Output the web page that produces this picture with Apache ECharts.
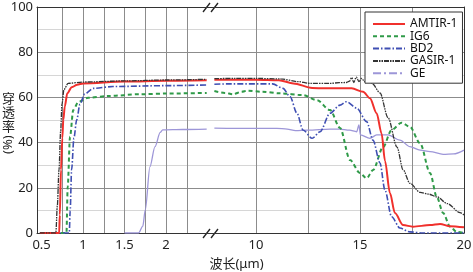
<!DOCTYPE html>
<html>
<head>
<meta charset="utf-8">
<script src="https://cdn.jsdelivr.net/npm/echarts@6/dist/echarts.min.js"></script>
<style>
  html, body { margin: 0; padding: 0; background: #fff; }
  #chart { width: 473px; height: 272px; }
</style>
</head>
<body>
<div id="chart"></div>
<script>
// wavelength (um), transmission (%)
const amtir = [
  [0.48, 0], [0.712, 0], [0.72, 8], [0.734, 28], [0.75, 42], [0.762, 50], [0.78, 56], [0.81, 61.8],
  [0.863, 64.5], [0.93, 65.6], [1.0, 66.2], [1.5, 67], [2.0, 67.4], [2.49, 67.6],
  [8.0, 67.8], [9, 67.8], [10, 67.8], [11.1, 67.6], [11.8, 66.2], [12.7, 64.2], [13.6, 64], [14.6, 64],
  [15.15, 62.5], [15.48, 59.6], [15.8, 53], [16.04, 44], [16.2, 32], [16.44, 17.7], [16.68, 8.8],
  [17.07, 3.5], [17.55, 2.8], [18.37, 3.5], [18.85, 4], [19.33, 3], [20, 2.5]
]
const ig6 = [
  [0.48, 0], [0.80, 0], [0.815, 20.5], [0.843, 42.6], [0.882, 54.4], [0.943, 58], [1.06, 59.8],
  [1.3, 60.6], [1.685, 61.4], [2.0, 61.7], [2.49, 62],
  [8.0, 62.8], [8.5, 62], [8.9, 61.4], [9.3, 62.5], [9.6, 63], [10.3, 62.5], [11.16, 61.8], [12.26, 61],
  [12.93, 58.8], [13.56, 54.4], [14.04, 46.5], [14.52, 32.3], [15.0, 26.5], [15.32, 24.2], [15.63, 27.9],
  [16.11, 38], [16.52, 45.6], [17.0, 48.8], [17.4, 47], [17.89, 39.7], [18.37, 26.5], [18.69, 16],
  [19.0, 8.8], [19.33, 2.8], [19.65, 0.5], [20, 0]
]
const bd2 = [
  [0.48, 0], [0.834, 0], [0.845, 10], [0.862, 28], [0.89, 42], [0.923, 50], [0.963, 57], [1.02, 61.5],
  [1.124, 64], [1.36, 64.8], [2.0, 65.2], [2.49, 65.5],
  [8.0, 65.8], [8.75, 66], [10.8, 66], [11.3, 64], [11.64, 60.3], [11.97, 53], [12.26, 45.6], [12.7, 41.9],
  [13.08, 44.8], [13.56, 53], [14.04, 56.6], [14.35, 58.1], [14.84, 55.3], [15.32, 49.3], [15.63, 41],
  [15.96, 31], [16.2, 19], [16.52, 7.2], [16.92, 2.2], [17.4, 0.5], [18, 0], [20, 0]
]
const gasir = [
  [0.48, 0], [0.672, 0], [0.69, 12], [0.71, 28], [0.73, 45], [0.746, 57], [0.77, 63.5], [0.82, 66.2],
  [1.0, 66.8], [1.5, 67.3], [2.0, 67.7], [2.49, 68],
  [8.0, 68.3], [9, 68.4], [10, 68.4], [11.2, 68.2], [12.0, 67], [12.6, 66.2], [13.56, 66.2], [14.0, 66.5],
  [14.35, 66.6], [14.5, 67.2], [14.6, 68.8], [14.7, 66.6], [14.82, 69], [14.95, 67], [15.08, 68.4],
  [15.22, 67], [15.35, 68], [15.5, 66.8], [15.6, 66], [15.96, 62], [16.35, 51], [16.78, 38], [17.07, 28],
  [17.4, 22], [17.89, 18], [18.3, 17.2], [18.7, 16], [19.2, 13], [19.81, 9], [20, 8]
]
const ge = [
  [1.5, 0], [1.67, 0], [1.72, 3], [1.75, 10.2], [1.806, 29.3], [1.867, 38.2], [1.93, 44.5], [1.96, 45.6],
  [2.2, 45.8], [2.49, 46],
  [8.0, 46.4], [9, 46.3], [11.0, 46.3], [11.5, 46], [11.9, 45.3], [12.5, 45.5], [13.56, 46], [14.0, 46],
  [14.5, 45.5], [14.84, 44.8], [14.95, 47.8], [15.02, 43.4], [15.48, 41.9], [15.8, 43.4], [16.35, 43.4],
  [16.92, 41.1], [17.4, 38.2], [17.89, 36.7], [18.37, 36], [19.0, 34.8], [19.5, 35], [20, 36.7]
]
const legendNames = ['AMTIR-1', 'IG6', 'BD2', 'GASIR-1', 'GE']
const xLeftTicks = [0.75, 1, 1.25, 1.5, 1.75, 2, 2.25]
const xLeftLabels = [0.5, 1, 1.5, 2]
const xRightTicks = [10, 12.5, 15, 17.5]
const xRightLabels = [10, 15, 20]

const materials = [
  { name: 'GE', data: ge, color: '#9d96d8', width: 1.3, type: 'solid' },
  { name: 'IG6', data: ig6, color: '#2f9a48', width: 2, type: [4, 3] },
  { name: 'BD2', data: bd2, color: '#3f4fb3', width: 1.6, type: [6, 2, 1.5, 2] },
  { name: 'AMTIR-1', data: amtir, color: '#f0302c', width: 2, type: 'solid' },
  { name: 'GASIR-1', data: gasir, color: '#333333', width: 1.3, type: [5, 1, 1.5, 1, 1.5, 1] }
]

const font = '"Noto Sans", "Noto Sans CJK SC", sans-serif'
const series = []
materials.forEach(function (m) {
  // left segment (short wavelengths) and right segment (long wavelengths)
  [[0, function (p) { return p[0] < 5 }], [1, function (p) { return p[0] > 5 }]].forEach(function (s) {
    series.push({
      name: m.name,
      type: 'line',
      xAxisIndex: s[0],
      yAxisIndex: s[0],
      data: m.data.filter(s[1]),
      symbol: 'none',
      smooth: 0.3,
      smoothMonotone: 'x',
      color: m.color,
      lineStyle: { color: m.color, width: m.width, type: m.type },
      animation: false
    })
  })
})

const splitMajor = { show: true, lineStyle: { color: '#8c8c8c', width: 1 } }
const splitMinor = { show: true, lineStyle: { color: '#d6d6d6', width: 1 } }
const frame = { show: true, lineStyle: { color: '#333', width: 1 } }
const labelStyle = { fontSize: 13, color: '#222', margin: 6, fontFamily: font }

// bottom axes carry the labels, top axes carry the vertical grid lines
function bottomAxis (grid, min, max, labels) {
  return {
    gridIndex: grid, type: 'value', position: 'bottom', min: min, max: max,
    axisLine: frame,
    axisTick: { show: false },
    axisLabel: Object.assign({ customValues: labels }, labelStyle),
    splitLine: { show: false }
  }
}
function topAxis (grid, min, max, ticks) {
  return {
    gridIndex: grid, type: 'value', position: 'top', min: min, max: max,
    axisLine: frame,
    axisTick: { show: false, customValues: ticks },
    axisLabel: { customValues: ticks, formatter: function () { return '' } },
    splitLine: splitMajor
  }
}

// y axis title, written top to bottom, with (%) turned on its side
const yTitle = ['穿', '透', '率'].map(function (ch, i) {
  return { type: 'text', x: 2, y: 92 + i * 14, style: { text: ch, fontSize: 13, fill: '#222', fontFamily: '"Noto Sans CJK SC"' } }
})

const chart = echarts.init(document.getElementById('chart'))
chart.setOption({
  animation: false,
  textStyle: { fontFamily: font },
  grid: [
    { left: 37, top: 7, width: 173, height: 226, outerBoundsMode: 'none' },
    { left: 210, top: 7, width: 254, height: 226, outerBoundsMode: 'none' }
  ],
  xAxis: [
    bottomAxis(0, 0.445, 2.53, xLeftLabels),
    bottomAxis(1, 7.79, 20, xRightLabels),
    topAxis(0, 0.445, 2.53, xLeftTicks),
    topAxis(1, 7.79, 20, xRightTicks)
  ],
  yAxis: [
    {
      gridIndex: 0, type: 'value', min: 0, max: 100, interval: 20,
      axisLine: frame,
      axisTick: { show: false },
      axisLabel: { fontSize: 13, color: '#222', margin: 4, fontFamily: font },
      splitLine: splitMajor,
      minorTick: { show: false, splitNumber: 2 },
      minorSplitLine: splitMinor
    },
    {
      gridIndex: 1, type: 'value', position: 'right', min: 0, max: 100, interval: 20,
      axisLine: frame,
      axisTick: { show: false },
      axisLabel: { show: false },
      splitLine: splitMajor,
      minorTick: { show: false, splitNumber: 2 },
      minorSplitLine: splitMinor
    }
  ],
  legend: {
    data: legendNames.map(function (n) {
      return n === 'GE' ? { name: n, lineStyle: { type: [8, 3, 2, 3], width: 2 } } : { name: n }
    }),
    orient: 'vertical',
    left: 365,
    top: 12,
    padding: [6, 5, 4, 7],
    itemWidth: 32,
    itemHeight: 10,
    itemGap: 0.3,
    itemStyle: { color: 'rgba(0,0,0,0)', borderWidth: 0, opacity: 0 },
    backgroundColor: '#fff',
    borderColor: '#333',
    borderWidth: 1,
    borderRadius: 0,
    textStyle: { fontSize: 12, color: '#111', lineHeight: 10, fontFamily: font }
  },
  graphic: yTitle.concat([
    { type: 'text', x: 2, y: 154, rotation: Math.PI / 2, style: { text: '(%)', fontSize: 13, fill: '#222', fontFamily: font } },
    { type: 'text', left: 'center', top: 258, style: { text: '波长(μm)', fontSize: 13, fill: '#222', fontFamily: font } },
    { type: 'line', shape: { x1: 203, y1: 12, x2: 210, y2: 3 }, style: { stroke: '#222', lineWidth: 1.3 } },
    { type: 'line', shape: { x1: 211, y1: 12, x2: 218, y2: 3 }, style: { stroke: '#222', lineWidth: 1.3 } },
    { type: 'line', shape: { x1: 203, y1: 238, x2: 210, y2: 229 }, style: { stroke: '#222', lineWidth: 1.3 } },
    { type: 'line', shape: { x1: 211, y1: 238, x2: 218, y2: 229 }, style: { stroke: '#222', lineWidth: 1.3 } }
  ]),
  series: series
})
</script>
</body>
</html>
